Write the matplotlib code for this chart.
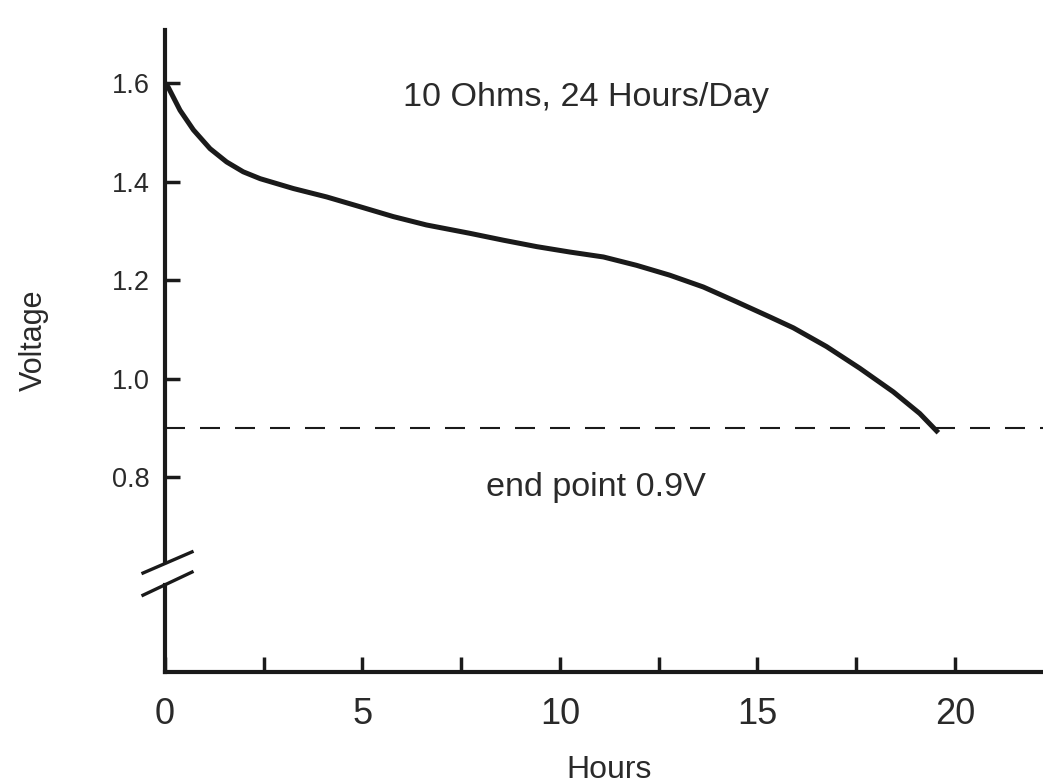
import matplotlib
matplotlib.use('Agg')
import matplotlib.pyplot as plt
from matplotlib.ticker import FixedLocator

plt.rcParams['font.family'] = ['Liberation Sans', 'DejaVu Sans']

# discharge curve
hours = [0.0, 0.08, 0.38, 0.72, 1.14, 1.56, 1.98, 2.41, 3.25, 4.09, 4.94,
         5.78, 6.62, 7.72, 8.57, 9.41, 10.25, 11.10, 11.94, 12.78, 13.63,
         14.47, 15.32, 15.91, 16.75, 17.59, 18.44, 19.11, 19.58]
volts = [1.600, 1.592, 1.545, 1.505, 1.467, 1.440, 1.420, 1.406, 1.386, 1.369, 1.349,
         1.329, 1.312, 1.295, 1.281, 1.268, 1.257, 1.247, 1.230, 1.210, 1.186,
         1.156, 1.125, 1.103, 1.065, 1.021, 0.973, 0.929, 0.890]
end_point = 0.9
x_major = [0, 5, 10, 15, 20]
x_minor = [2.5, 7.5, 12.5, 17.5]
y_ticks = [0.8, 1.0, 1.2, 1.4, 1.6]

ink = '#1a1a1a'
txt = '#2a2a2a'

fig = plt.figure(figsize=(10.43, 7.84), dpi=100)
ax = fig.add_axes([165/1043, 112/784, 878/1043, 642/784])

x_max = 22.23
y_min, y_max = 0.404, 1.708
ax.set_xlim(0, x_max)
ax.set_ylim(y_min, y_max)

ax.plot(hours, volts, color=ink, lw=3.6, solid_capstyle='butt', solid_joinstyle='round')
ax.plot([0, x_max], [end_point, end_point], color=ink, lw=1.5, dashes=(9.6, 7.2))

# axes styling
for s in ['top', 'right']:
    ax.spines[s].set_visible(False)
for s in ['left', 'bottom']:
    ax.spines[s].set_linewidth(3.0)
    ax.spines[s].set_color(ink)
    ax.spines[s].set_capstyle('projecting')

# broken y axis
brk_lo, brk_hi = 0.581, 0.627
ax.spines['left'].set_bounds(brk_hi, y_max)
ax.plot([0, 0], [y_min, brk_lo], color=ink, lw=3.0, clip_on=False, solid_capstyle='projecting')
ax.plot([-0.557, 0.684], [0.605, 0.648], color=ink, lw=2.4, clip_on=False)
ax.plot([-0.557, 0.684], [0.560, 0.607], color=ink, lw=2.4, clip_on=False)

ax.xaxis.set_major_locator(FixedLocator(x_major))
ax.xaxis.set_minor_locator(FixedLocator(x_minor))
ax.set_xticklabels([str(v) for v in x_major])
ax.set_yticks(y_ticks)
ax.set_yticklabels(['%.1f' % v for v in y_ticks])

ax.tick_params(axis='x', which='both', direction='in', length=10.8, width=2.5,
               color=ink, labelsize=26, pad=18, labelcolor=txt)
ax.tick_params(axis='y', which='both', direction='in', length=10.8, width=2.5,
               color=ink, labelsize=19.5, pad=11, labelcolor=txt)

ax.set_xlabel('Hours', fontsize=23, color=txt)
ax.xaxis.set_label_coords(0.506, -0.129)
ax.set_ylabel('Voltage', fontsize=22, color=txt)
ax.yaxis.set_label_coords(-0.132, 0.516)

ax.text(10.66, 1.553, '10 Ohms, 24 Hours/Day', fontsize=24.6, color=txt,
        ha='center', va='baseline')
ax.text(10.92, 0.761, 'end point 0.9V', fontsize=24.6, color=txt,
        ha='center', va='baseline')

fig.savefig('out.png', dpi=100)
